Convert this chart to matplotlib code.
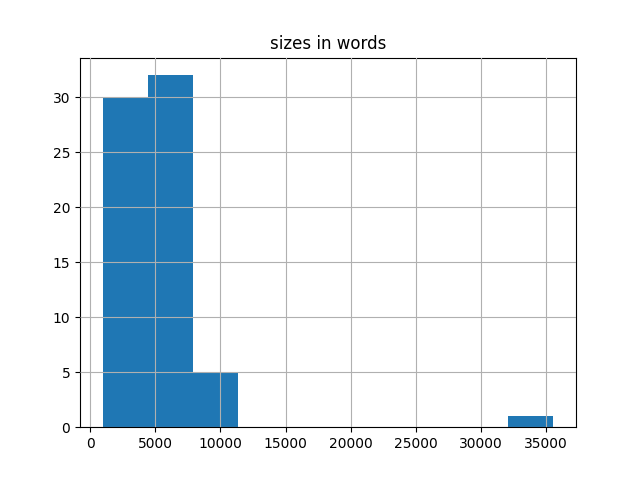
import numpy as np
import matplotlib
matplotlib.use("Agg")
import matplotlib.pyplot as plt

# histogram: 10 equal bins
bin_lo = 950
bin_hi = 35550
counts = [30, 32, 5, 0, 0, 0, 0, 0, 0, 1]

edges = np.linspace(bin_lo, bin_hi, len(counts) + 1)

fig, ax = plt.subplots(figsize=(6.4, 4.8), dpi=100)
ax.hist(edges[:-1], bins=edges, weights=counts, color="#1f77b4")
ax.grid(True)
ax.set_axisbelow(False)
ax.set_title("sizes in words")
fig.savefig("out.png", dpi=100)
plt.close(fig)
